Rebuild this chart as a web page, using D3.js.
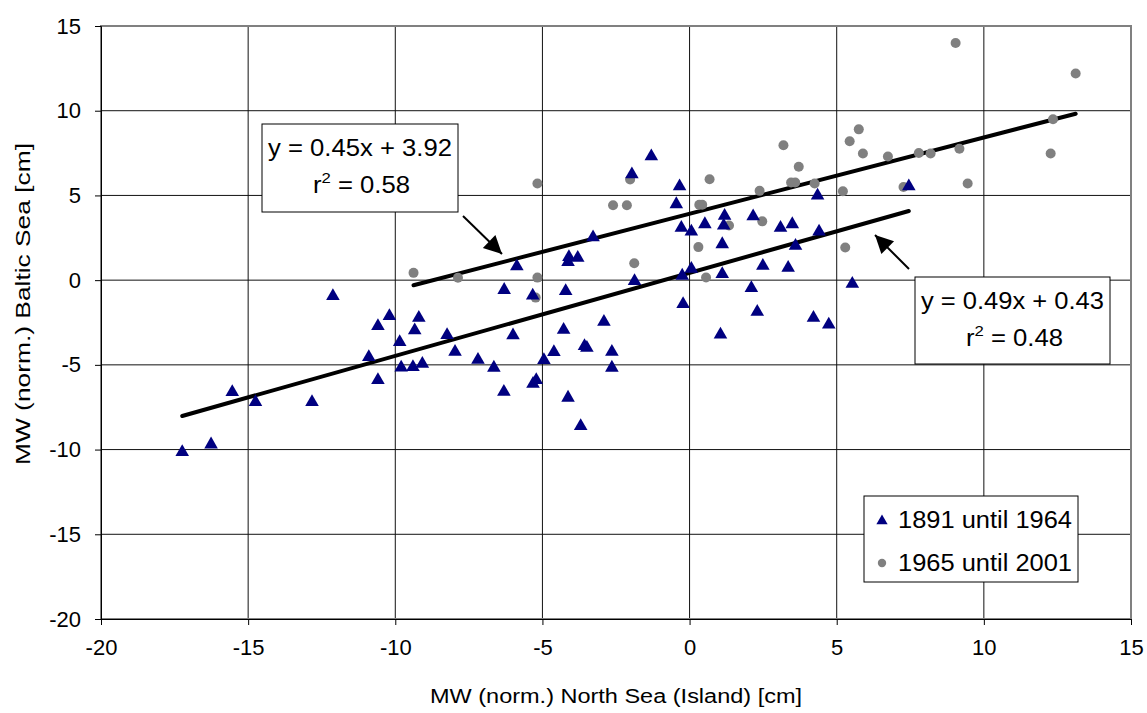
<!DOCTYPE html>
<html lang="en">
<head>
<meta charset="utf-8"/>
<title>MW North Sea vs Baltic Sea</title>
<script src="https://cdn.jsdelivr.net/npm/d3@7/dist/d3.min.js"></script>
<style>
  html,body { margin:0; padding:0; background:#fff; overflow:hidden; }
  svg { display:block; font-family:"Liberation Sans", Arial, sans-serif; }
</style>
</head>
<body>
<svg id="chart" width="1147" height="713"></svg>
<script>
// ---- data ----
// 1891 until 1964 (triangles)
const earlyX = [-17.24,-16.26,-15.54,-14.75,-12.83,-12.12,-10.2,-10.59,-10.9,-10.59,
  -9.85,-9.8,-9.4,-9.08,-9.2,-9.34,-8.24,-7.97,-7.19,-6.65,
  -6.31,-6.3,-6.0,-5.87,-5.33,-5.21,-5.32,-4.95,-4.61,-4.28,
  -4.21,-4.13,-4.1,-3.8,-4.13,-3.7,-3.57,-3.49,-3.28,-2.91,
  -2.64,-2.64,-1.96,-1.87,-1.3,-0.34,-0.45,-0.28,0.06,-0.25,
  0.06,-0.22,0.52,1.19,1.16,1.11,1.11,1.05,2.16,2.1,
  2.3,2.49,3.09,3.49,3.6,3.35,4.35,4.4,4.21,4.73,
  5.53,7.45];
const earlyY = [-10.09,-9.64,-6.55,-7.14,-7.14,-0.88,-2.06,-2.65,-4.48,-5.84,
  -3.6,-5.1,-5.07,-4.88,-2.16,-2.91,-3.19,-4.17,-4.64,-5.11,
  -6.53,-0.52,-3.2,0.88,-0.85,-5.84,-6.06,-4.66,-4.19,-2.87,
  -0.59,-6.88,1.42,1.38,1.12,-8.55,-3.83,-3.93,2.58,-2.4,
  -4.17,-5.11,6.3,0,7.37,5.6,4.54,3.15,2.93,0.32,
  0.72,-1.36,3.36,3.86,3.28,2.18,0.41,-3.15,3.83,-0.41,
  -1.81,0.9,3.15,3.36,2.08,0.79,5.05,2.93,-2.16,-2.56,
  -0.16,5.6];
// 1965 until 2001 (circles)
const lateX = [-9.38,-7.87,-5.17,-5.17,-5.23,-2.6,-2.13,-2.02,-1.88,0.33,
  0.43,0.68,0.3,0.56,1.34,2.38,2.47,3.19,3.45,3.59,
  3.71,4.25,5.21,5.29,5.44,5.75,5.89,6.74,7.27,7.79,
  8.19,9.04,9.17,9.45,12.35,12.27,13.12];
const lateY = [0.43,0.14,5.7,0.15,-1.03,4.42,4.42,5.94,1.0,4.45,
  4.45,5.96,1.95,0.16,3.22,5.27,3.47,7.96,5.76,5.76,
  6.69,5.7,5.25,1.93,8.2,8.9,7.47,7.3,5.5,7.5,
  7.47,14.0,7.75,5.7,9.5,7.47,12.2];

const seriesNames = ["1891 until 1964", "1965 until 2001"];
const fitSlope     = [0.49, 0.45];
const fitIntercept = [0.43, 3.92];
const fitR2        = ["0.48", "0.58"];

const xTicks = [-20,-15,-10,-5,0,5,10,15];
const yTicks = [-20,-15,-10,-5,0,5,10,15];
const xTitle = "MW (norm.) North Sea (Island) [cm]";
const yTitle = "MW (norm.) Baltic Sea [cm]";

// ---- layout ----
const L = 101, R = 1131, T = 26, B = 619;
const FONT = "Liberation Sans, Arial, sans-serif";
const svg = d3.select("#chart");
const x = d3.scaleLinear().domain([-20,15]).range([L,R]);
const y = d3.scaleLinear().domain([-20,15]).range([B,T]);

// grid
const g = svg.append("g");
g.selectAll(".gx").data(xTicks).join("line")
  .attr("x1",d=>x(d)).attr("x2",d=>x(d)).attr("y1",T).attr("y2",B)
  .attr("stroke","#111").attr("stroke-width",1);
g.selectAll(".gy").data(yTicks).join("line")
  .attr("y1",d=>y(d)).attr("y2",d=>y(d)).attr("x1",L).attr("x2",R)
  .attr("stroke","#111").attr("stroke-width",1);
// plot border
svg.append("rect").attr("x",L).attr("y",T).attr("width",R-L).attr("height",B-T)
  .attr("fill","none").attr("stroke","#808080").attr("stroke-width",2);

// axes (plain hyphen minus like the original)
const fmt = d => String(d);
const xAxis = d3.axisBottom(x).tickValues(xTicks).tickFormat(fmt).tickSize(6).tickPadding(14);
const yAxis = d3.axisLeft(y).tickValues(yTicks).tickFormat(fmt).tickSize(6).tickPadding(14);
svg.append("g").attr("transform",`translate(0,${B})`).call(xAxis)
  .call(a=>a.selectAll("text").attr("font-size",22).attr("fill","#000").attr("font-family",FONT))
  .call(a=>a.selectAll("line,path").attr("stroke","#000"));
svg.append("g").attr("transform",`translate(${L},0)`).call(yAxis)
  .call(a=>a.selectAll("text").attr("font-size",22).attr("fill","#000").attr("font-family",FONT))
  .call(a=>a.selectAll("line,path").attr("stroke","#000"));

// axis titles
svg.append("text").attr("x",(L+R)/2).attr("y",703).attr("text-anchor","middle")
  .attr("font-size",20).attr("textLength",372).attr("lengthAdjust","spacingAndGlyphs")
  .text(xTitle);
svg.append("text").attr("transform","translate(30,304) rotate(-90)").attr("text-anchor","middle")
  .attr("font-size",20).attr("textLength",322).attr("lengthAdjust","spacingAndGlyphs")
  .text(yTitle);

// regression lines
const fits = [
  {xs: earlyX, m: fitSlope[0], b: fitIntercept[0]},
  {xs: lateX,  m: fitSlope[1], b: fitIntercept[1]}
];
fits.forEach(f=>{
  const [x0,x1] = d3.extent(f.xs);
  svg.append("line")
    .attr("x1",x(x0)).attr("y1",y(f.m*x0+f.b))
    .attr("x2",x(x1)).attr("y2",y(f.m*x1+f.b))
    .attr("stroke","#000").attr("stroke-width",4).attr("stroke-linecap","round");
});

// markers
const tri = d3.symbol().type(d3.symbolTriangle).size(80);
const late = d3.zip(lateX, lateY);
const early = d3.zip(earlyX, earlyY);
svg.append("g").selectAll("circle").data(late).join("circle")
  .attr("cx",d=>x(d[0])).attr("cy",d=>y(d[1])).attr("r",5).attr("fill","#808080");
svg.append("g").selectAll("path").data(early).join("path")
  .attr("d",tri).attr("transform",d=>`translate(${x(d[0])},${y(d[1])+1})`)
  .attr("fill","#000080");

// arrow heads
const defs = svg.append("defs");
defs.append("marker").attr("id","ah").attr("viewBox","0 0 10 10")
  .attr("refX",10).attr("refY",5)
  .attr("markerUnits","userSpaceOnUse").attr("orient","auto")
  .attr("markerWidth",22).attr("markerHeight",18)
  .append("path").attr("d","M0,0 L10,5 L0,10 Z").attr("fill","#000");

svg.append("line").attr("x1",463).attr("y1",216).attr("x2",502).attr("y2",254)
  .attr("stroke","#000").attr("stroke-width",2).attr("marker-end","url(#ah)");
svg.append("line").attr("x1",909).attr("y1",269).attr("x2",875).attr("y2",235)
  .attr("stroke","#000").attr("stroke-width",2).attr("marker-end","url(#ah)");

// equation boxes
function eqBox(bx, by, w, h, i, x1, x2, base) {
  const gg = svg.append("g");
  gg.append("rect").attr("x",bx).attr("y",by).attr("width",w).attr("height",h)
    .attr("fill","#fff").attr("stroke","#000").attr("stroke-width",1);
  gg.append("text").attr("x",x1).attr("y",base).attr("font-size",23)
    .attr("textLength",w-12).attr("lengthAdjust","spacingAndGlyphs")
    .text(`y = ${fitSlope[i].toFixed(2)}x + ${fitIntercept[i].toFixed(2)}`);
  const t2 = gg.append("text").attr("x",x2).attr("y",base+37).attr("font-size",23)
    .attr("textLength",97).attr("lengthAdjust","spacingAndGlyphs");
  t2.append("tspan").text("r");
  t2.append("tspan").attr("font-size",15).attr("dy",-10).text("2");
  t2.append("tspan").attr("dy",10).text(` = ${fitR2[i]}`);
}
eqBox(262,124,196,88,1,268,313,156);
eqBox(915,277,195,87,0,921,966,309);

// legend
const lg = svg.append("g");
lg.append("rect").attr("x",864).attr("y",496).attr("width",214).attr("height",86)
  .attr("fill","#fff").attr("stroke","#000").attr("stroke-width",1);
lg.append("path").attr("d",d3.symbol().type(d3.symbolTriangle).size(55))
  .attr("transform","translate(882,521)").attr("fill","#000080");
lg.append("circle").attr("cx",882).attr("cy",563).attr("r",4.2).attr("fill","#808080");
lg.selectAll("text").data(seriesNames).join("text")
  .attr("x",898).attr("y",(d,i)=>528+i*43).attr("font-size",23)
  .attr("textLength",174).attr("lengthAdjust","spacingAndGlyphs")
  .text(d=>d);
</script>
</body>
</html>
